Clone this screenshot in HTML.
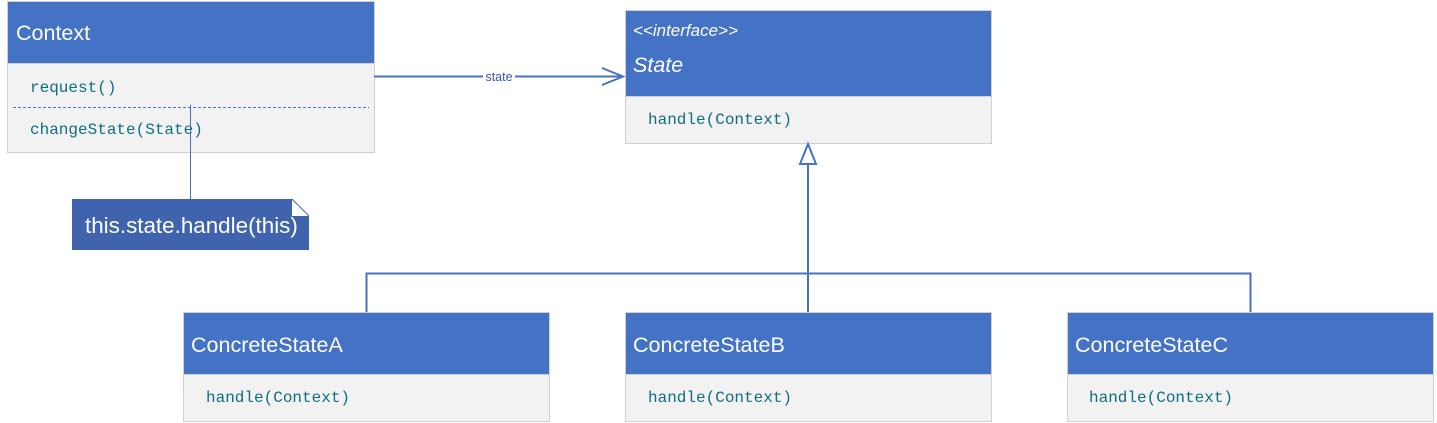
<!DOCTYPE html>
<html><head><meta charset="utf-8"><style>
html,body{margin:0;padding:0;background:#fff;}
svg{display:block;}
.h{font-family:"Liberation Sans","Noto Sans CJK SC",sans-serif;fill:#fff;font-size:21.5px;}
.m{font-family:"Liberation Mono","Noto Sans CJK SC",monospace;fill:#0e6d82;font-size:16px;}
</style></head><body>
<svg width="1437" height="423" xmlns="http://www.w3.org/2000/svg">
<!-- Context -->
<rect x="7.5" y="1.5" width="367" height="151" fill="#f2f2f2" stroke="#d0d0d0"/>
<rect x="7.5" y="1.5" width="367" height="62" fill="#4472c4" stroke="#d0d0d0"/>
<text class="h" x="16" y="40">Context</text>
<text class="m" x="30" y="92">request()</text>
<line x1="13" y1="107.5" x2="369" y2="107.5" stroke="#4472c4" stroke-dasharray="3,2"/>
<text class="m" x="30" y="134">changeState(State)</text>
<!-- note connector -->
<line x1="190.5" y1="105" x2="190.5" y2="199" stroke="#4a6fb5" stroke-width="1"/>
<!-- note -->
<path d="M72,199 L292,199 L309,216 L309,250 L72,250 Z" fill="#3f64ad"/>
<path d="M292,199 L309,216 L292,216 Z" fill="#fff"/>
<path d="M292,199 L309,216" stroke="#3f64ad" fill="none"/>
<text x="85" y="233" font-family="Liberation Sans, sans-serif" font-size="22.4" fill="#fff">this.state.handle(this)</text>
<!-- association -->
<line x1="374" y1="76.5" x2="623" y2="76.5" stroke="#4472c4" stroke-width="2"/>
<path d="M602,68 L623,76.5 L602,85" fill="none" stroke="#4472c4" stroke-width="2"/>
<rect x="483" y="70" width="32" height="12" fill="#fff"/>
<text x="499" y="81" text-anchor="middle" font-family="Liberation Sans, sans-serif" font-size="12.5" fill="#3a5aa8">state</text>
<!-- State -->
<rect x="625.5" y="10.5" width="366" height="133" fill="#f2f2f2" stroke="#d0d0d0"/>
<rect x="625.5" y="10.5" width="366" height="86" fill="#4472c4" stroke="#d0d0d0"/>
<text x="633" y="36" font-family="Liberation Sans, sans-serif" font-style="italic" font-size="17" fill="#fff">&lt;&lt;interface&gt;&gt;</text>
<text x="633" y="72" font-family="Liberation Sans, sans-serif" font-style="italic" font-size="21.5" fill="#fff">State</text>
<text class="m" x="648" y="124">handle(Context)</text>
<!-- inheritance -->
<path d="M808,144 L800,164 L816,164 Z" fill="#fff" stroke="#4472c4" stroke-width="2"/>
<line x1="808" y1="164" x2="808" y2="312" stroke="#4472c4" stroke-width="2"/>
<path d="M366.5,312 L366.5,273.5 L1250.5,273.5 L1250.5,312" fill="none" stroke="#4472c4" stroke-width="2"/>
<!-- Concrete A -->
<rect x="183.5" y="312.5" width="366" height="109" fill="#f2f2f2" stroke="#d0d0d0"/>
<rect x="183.5" y="312.5" width="366" height="62" fill="#4472c4" stroke="#d0d0d0"/>
<text class="h" x="191" y="352">ConcreteStateA</text>
<text class="m" x="206" y="402">handle(Context)</text>
<!-- Concrete B -->
<rect x="625.5" y="312.5" width="366" height="109" fill="#f2f2f2" stroke="#d0d0d0"/>
<rect x="625.5" y="312.5" width="366" height="62" fill="#4472c4" stroke="#d0d0d0"/>
<text class="h" x="633" y="352">ConcreteStateB</text>
<text class="m" x="648" y="402">handle(Context)</text>
<!-- Concrete C -->
<rect x="1067.5" y="312.5" width="366" height="109" fill="#f2f2f2" stroke="#d0d0d0"/>
<rect x="1067.5" y="312.5" width="366" height="62" fill="#4472c4" stroke="#d0d0d0"/>
<text class="h" x="1075" y="352">ConcreteStateC</text>
<text class="m" x="1089" y="402">handle(Context)</text>
</svg>
</body></html>
